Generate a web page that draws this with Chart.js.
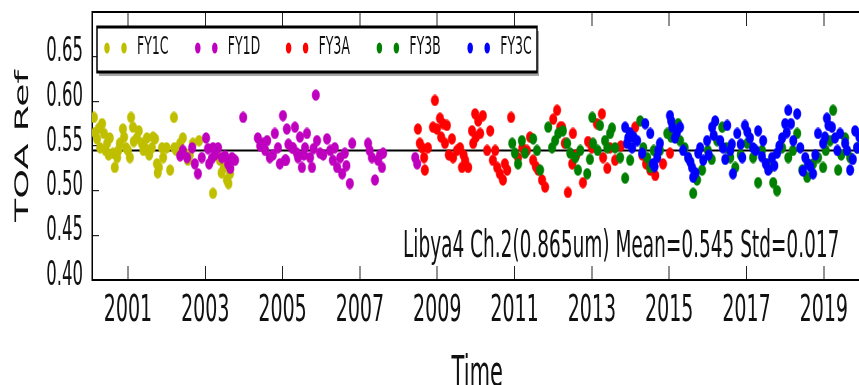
<!DOCTYPE html>
<html>
<head>
<meta charset="utf-8">
<script src="https://cdn.jsdelivr.net/npm/chart.js@4/dist/chart.umd.min.js"></script>
<style>
  html, body { margin: 0; padding: 0; background: #fff; overflow: hidden; }
  /* the source figure is squeezed sideways, so draw wide and squash */
  #wrap { width: 1740px; height: 400px; transform: scaleX(0.5); transform-origin: 0 0; }
</style>
</head>
<body>
<div id="wrap"><canvas id="chart" width="1740" height="400"></canvas></div>
<script>
const FONT = "'DejaVu Sans', sans-serif";

const xTickYears = [2001, 2003, 2005, 2007, 2009, 2011, 2013, 2015, 2017, 2019];
const yTickValues = [0.40, 0.45, 0.50, 0.55, 0.60, 0.65];
const meanValue = 0.545;
const statsText = "Libya4 Ch.2(0.865um) Mean=0.545 Std=0.017";

const fy1cYears = [2000.12, 2000.15, 2000.20, 2000.28, 2000.33, 2000.38, 2000.42, 2000.46, 2000.53, 2000.61,
  2000.66, 2000.72, 2000.79, 2000.87, 2000.90, 2000.95, 2001.00, 2001.05, 2001.08, 2001.13,
  2001.23, 2001.28, 2001.36, 2001.44, 2001.49, 2001.55, 2001.62, 2001.70, 2001.75, 2001.77,
  2001.80, 2001.88, 2001.91, 2002.00, 2002.09, 2002.19, 2002.25, 2002.35, 2002.42, 2002.47,
  2002.55, 2002.60, 2002.68, 2002.84, 2003.20, 2003.30, 2003.38, 2003.48, 2003.56, 2003.60, 2003.64,
  2000.25, 2000.50, 2000.75, 2001.15, 2001.40, 2001.65, 2002.20, 2003.42];
const fy1cRef = [0.582, 0.565, 0.558, 0.548, 0.575, 0.564, 0.545, 0.553, 0.559, 0.542,
  0.526, 0.537, 0.553, 0.569, 0.560, 0.548, 0.545, 0.537, 0.582, 0.571,
  0.559, 0.567, 0.553, 0.548, 0.559, 0.540, 0.548, 0.558, 0.530, 0.520,
  0.526, 0.548, 0.537, 0.548, 0.523, 0.582, 0.545, 0.553, 0.559, 0.542,
  0.534, 0.540, 0.553, 0.556, 0.497, 0.540, 0.534, 0.526, 0.512, 0.508, 0.519,
  0.570, 0.540, 0.545, 0.555, 0.545, 0.560, 0.548, 0.520];

const fy1dYears = [2002.35, 2002.42, 2002.53, 2002.66, 2002.73, 2002.81, 2002.91, 2003.02, 2003.07, 2003.17,
  2003.20, 2003.33, 2003.43, 2003.51, 2003.59, 2003.69, 2003.77, 2003.98, 2004.36, 2004.49,
  2004.60, 2004.67, 2004.80, 2004.88, 2004.93, 2005.01, 2005.06, 2005.09, 2005.11, 2005.24,
  2005.27, 2005.32, 2005.37, 2005.40, 2005.50, 2005.58, 2005.63, 2005.71, 2005.76, 2005.86,
  2005.89, 2005.97, 2006.15, 2006.23, 2006.30, 2006.41, 2006.49, 2006.54, 2006.61, 2006.74,
  2006.80, 2007.21, 2007.31, 2007.39, 2007.47, 2007.57, 2007.60, 2008.43, 2008.48,
  2003.10, 2003.25, 2003.65, 2004.42, 2004.55, 2004.75, 2005.15, 2005.45, 2005.55, 2005.80,
  2006.05, 2006.35, 2006.65, 2007.25, 2007.52];
const fy1dRef = [0.539, 0.545, 0.537, 0.548, 0.530, 0.519, 0.537, 0.559, 0.547, 0.536,
  0.548, 0.548, 0.537, 0.539, 0.530, 0.537, 0.534, 0.582, 0.559, 0.553,
  0.556, 0.537, 0.564, 0.548, 0.530, 0.584, 0.534, 0.534, 0.569, 0.548,
  0.548, 0.571, 0.542, 0.537, 0.526, 0.548, 0.564, 0.537, 0.526, 0.607,
  0.556, 0.542, 0.558, 0.545, 0.534, 0.526, 0.537, 0.519, 0.542, 0.508,
  0.553, 0.553, 0.537, 0.512, 0.534, 0.526, 0.542, 0.537, 0.530,
  0.530, 0.540, 0.525, 0.550, 0.545, 0.540, 0.552, 0.560, 0.540, 0.547,
  0.540, 0.548, 0.528, 0.545, 0.540];

const fy3aYears = [2008.50, 2008.61, 2008.66, 2008.68, 2008.76, 2008.89, 2008.94, 2008.99, 2009.07, 2009.15,
  2009.20, 2009.25, 2009.38, 2009.41, 2009.51, 2009.59, 2009.64, 2009.72, 2009.80, 2009.90,
  2009.93, 2009.98, 2010.06, 2010.11, 2010.18, 2010.29, 2010.37, 2010.44, 2010.55, 2010.62,
  2010.70, 2010.81, 2010.91, 2011.09, 2011.32, 2011.48, 2011.61, 2011.71, 2011.79, 2012.10,
  2012.18, 2012.23, 2012.38, 2012.49, 2012.51, 2012.77, 2013.13, 2013.26, 2013.29, 2013.47,
  2013.60, 2014.12, 2014.51, 2014.64, 2014.84, 2015.02,
  2008.55, 2009.10, 2009.30, 2009.68, 2010.00, 2010.50, 2010.75, 2011.20, 2011.40, 2011.55,
  2012.00, 2012.30, 2012.60, 2012.90, 2013.00, 2013.40, 2013.75, 2014.30, 2014.40];
const fy3aRef = [0.569, 0.548, 0.537, 0.523, 0.548, 0.571, 0.601, 0.569, 0.581, 0.575,
  0.553, 0.573, 0.558, 0.537, 0.545, 0.548, 0.526, 0.534, 0.526, 0.567,
  0.553, 0.586, 0.578, 0.564, 0.584, 0.545, 0.567, 0.534, 0.526, 0.519,
  0.512, 0.523, 0.582, 0.537, 0.545, 0.534, 0.523, 0.512, 0.504, 0.590,
  0.571, 0.571, 0.498, 0.530, 0.564, 0.509, 0.575, 0.586, 0.537, 0.548,
  0.534, 0.571, 0.523, 0.517, 0.530, 0.542,
  0.553, 0.560, 0.540, 0.540, 0.560, 0.545, 0.530, 0.548, 0.560, 0.527,
  0.580, 0.553, 0.540, 0.555, 0.548, 0.525, 0.550, 0.540, 0.530];

const fy3bYears = [2010.94, 2011.01, 2011.09, 2011.19, 2011.27, 2011.48, 2011.58, 2011.66, 2011.87, 2011.97,
  2012.05, 2012.13, 2012.25, 2012.36, 2012.44, 2012.57, 2012.64, 2012.88, 2013.01, 2013.03,
  2013.21, 2013.34, 2013.47, 2013.60, 2013.73, 2013.86, 2013.99, 2014.25, 2014.43, 2014.51,
  2014.76, 2014.95, 2015.23, 2015.28, 2015.49, 2015.62, 2015.72, 2015.85, 2016.24, 2016.37,
  2016.58, 2016.71, 2017.02, 2017.17, 2017.30, 2017.53, 2017.69, 2017.79, 2017.92, 2018.08,
  2018.31, 2018.44, 2018.57, 2018.72, 2018.98, 2019.16, 2019.24, 2019.37, 2019.55, 2019.68, 2019.86,
  2012.70, 2012.95, 2013.15, 2013.40, 2013.52, 2014.05, 2014.33, 2014.60, 2015.05, 2015.40,
  2016.00, 2016.10, 2016.48, 2016.85, 2017.40, 2017.60, 2018.20, 2018.85, 2019.05, 2019.45, 2019.95];
const fy3bRef = [0.553, 0.542, 0.530, 0.556, 0.542, 0.558, 0.545, 0.523, 0.571, 0.548,
  0.556, 0.564, 0.567, 0.553, 0.542, 0.537, 0.523, 0.519, 0.582, 0.553,
  0.573, 0.556, 0.564, 0.548, 0.537, 0.514, 0.534, 0.578, 0.537, 0.526,
  0.545, 0.564, 0.575, 0.556, 0.537, 0.497, 0.512, 0.523, 0.556, 0.571,
  0.537, 0.526, 0.553, 0.537, 0.509, 0.530, 0.509, 0.500, 0.548, 0.537,
  0.564, 0.523, 0.515, 0.530, 0.526, 0.556, 0.590, 0.523, 0.559, 0.537, 0.548,
  0.545, 0.535, 0.545, 0.548, 0.570, 0.560, 0.548, 0.545, 0.560, 0.548,
  0.545, 0.535, 0.548, 0.540, 0.545, 0.525, 0.545, 0.537, 0.545, 0.540, 0.548];

const fy3cYears = [2013.86, 2013.91, 2013.94, 2014.04, 2014.17, 2014.30, 2014.38, 2014.51, 2014.58, 2014.69,
  2014.76, 2015.02, 2015.08, 2015.15, 2015.28, 2015.36, 2015.49, 2015.59, 2015.62, 2015.75,
  2015.88, 2015.98, 2016.11, 2016.19, 2016.32, 2016.39, 2016.50, 2016.58, 2016.65, 2016.76,
  2016.89, 2016.96, 2017.09, 2017.17, 2017.30, 2017.43, 2017.56, 2017.66, 2017.79, 2017.92,
  2018.00, 2018.08, 2018.21, 2018.31, 2018.39, 2018.52, 2018.59, 2018.72, 2018.85, 2018.98,
  2019.08, 2019.21, 2019.29, 2019.42, 2019.55, 2019.68, 2019.81, 2019.86,
  2013.98, 2014.08, 2014.62, 2014.72, 2015.05, 2015.20, 2015.55, 2015.68, 2015.80, 2016.02,
  2016.15, 2016.45, 2016.62, 2016.85, 2017.02, 2017.24, 2017.40, 2017.50, 2017.72, 2017.85,
  2018.04, 2018.15, 2018.46, 2018.65, 2018.78, 2019.03, 2019.12, 2019.35, 2019.60, 2019.75, 2019.92];
const fy3cRef = [0.571, 0.553, 0.559, 0.548, 0.556, 0.542, 0.575, 0.564, 0.530, 0.537,
  0.553, 0.584, 0.571, 0.559, 0.571, 0.545, 0.537, 0.526, 0.515, 0.542,
  0.534, 0.556, 0.571, 0.578, 0.556, 0.548, 0.573, 0.545, 0.519, 0.564,
  0.537, 0.573, 0.559, 0.548, 0.567, 0.556, 0.523, 0.537, 0.542, 0.559,
  0.575, 0.590, 0.556, 0.586, 0.548, 0.537, 0.530, 0.519, 0.564, 0.553,
  0.581, 0.571, 0.559, 0.564, 0.553, 0.523, 0.567, 0.548,
  0.565, 0.560, 0.527, 0.545, 0.578, 0.565, 0.532, 0.520, 0.548, 0.540,
  0.562, 0.535, 0.552, 0.552, 0.566, 0.545, 0.538, 0.530, 0.528, 0.550,
  0.565, 0.575, 0.522, 0.527, 0.540, 0.560, 0.573, 0.545, 0.545, 0.535, 0.560];

function points(xs, ys) {
  return xs.map((x, i) => ({ x, y: ys[i] }));
}

// elliptical marker, squashed again by the page transform
function dot(color) {
  const c = document.createElement("canvas");
  c.width = 17;
  c.height = 12;
  const g = c.getContext("2d");
  g.fillStyle = color;
  g.beginPath();
  g.ellipse(8.5, 6, 8, 5.7, 0, 0, Math.PI * 2);
  g.fill();
  return c;
}

const series = [
  { label: "FY1C", xs: fy1cYears, ys: fy1cRef, color: "#bfbf00" },
  { label: "FY1D", xs: fy1dYears, ys: fy1dRef, color: "#bf00bf" },
  { label: "FY3A", xs: fy3aYears, ys: fy3aRef, color: "#ff0000" },
  { label: "FY3B", xs: fy3bYears, ys: fy3bRef, color: "#008000" },
  { label: "FY3C", xs: fy3cYears, ys: fy3cRef, color: "#0000ff" }
];

const datasets = series.map((s, i) => ({
  label: s.label,
  data: points(s.xs, s.ys),
  backgroundColor: s.color,
  borderColor: s.color,
  pointStyle: dot(s.color),
  order: series.length - i
}));
datasets.push({
  label: "",
  data: [{ x: 1999, y: meanValue }, { x: 2021, y: meanValue }],
  showLine: true,
  borderColor: "#000",
  borderWidth: 2,
  pointRadius: 0,
  order: 10
});

// legend box with two markers per entry + the stats line
const annotations = {
  id: "annotations",
  afterDraw(chart) {
    const ctx = chart.ctx;
    ctx.save();
    ctx.fillStyle = "rgba(0,0,0,0.35)";
    ctx.fillRect(198, 31, 880, 45);
    ctx.fillStyle = "#fff";
    ctx.fillRect(194, 27, 880, 45);
    ctx.strokeStyle = "#000";
    ctx.lineWidth = 3;
    ctx.strokeRect(194, 27, 880, 45);
    ctx.font = "25px " + FONT;
    ctx.textBaseline = "middle";
    chart.data.datasets.forEach((ds, i) => {
      if (!ds.label) return;
      const x0 = 214 + 181.6 * i;
      ctx.fillStyle = ds.backgroundColor;
      [x0, x0 + 34].forEach(cx => {
        ctx.beginPath();
        ctx.arc(cx, 48, 5.5, 0, Math.PI * 2);
        ctx.fill();
      });
      ctx.fillStyle = "#111";
      ctx.fillText(ds.label, x0 + 60, 47);
    });
    ctx.font = "37px " + FONT;
    ctx.textBaseline = "alphabetic";
    ctx.fillStyle = "#111";
    ctx.fillText(statsText, 806, 257);
    ctx.restore();
  }
};

const ctx = document.getElementById("chart").getContext("2d");
new Chart(ctx, {
  type: "scatter",
  data: { datasets },
  plugins: [annotations],
  options: {
    responsive: false,
    animation: false,
    devicePixelRatio: 1,
    layout: { padding: { left: 0, right: 15, top: 12, bottom: 0 } },
    plugins: { legend: { display: false }, tooltip: { enabled: false } },
    scales: {
      x: {
        type: "linear",
        position: "bottom",
        min: 2000.07,
        max: 2020,
        afterBuildTicks: scale => { scale.ticks = xTickYears.map(v => ({ value: v })); },
        afterFit: scale => { scale.height = 120; scale.paddingLeft = 0; scale.paddingRight = 0; },
        ticks: { color: "#111", padding: 22, font: { family: FONT, size: 38 }, callback: v => String(v) },
        grid: { drawOnChartArea: false, tickLength: -14, color: "#222", lineWidth: 2 },
        border: { color: "#000", width: 2 },
        title: { display: true, text: "Time", color: "#111", font: { family: FONT, size: 42 }, padding: { top: 7, bottom: 0 } }
      },
      x2: {
        type: "linear",
        position: "top",
        min: 2000.07,
        max: 2020,
        afterBuildTicks: scale => { scale.ticks = xTickYears.map(v => ({ value: v })); },
        afterFit: scale => { scale.height = 0; scale.paddingLeft = 0; scale.paddingRight = 0; },
        ticks: { display: false },
        grid: { drawOnChartArea: false, tickLength: -14, color: "#222", lineWidth: 2 },
        border: { color: "#000", width: 2 }
      },
      y: {
        type: "linear",
        position: "left",
        min: 0.40,
        max: 0.70,
        afterBuildTicks: scale => { scale.ticks = yTickValues.map(v => ({ value: v })); },
        afterFit: scale => { scale.width = 184; scale.paddingTop = 0; scale.paddingBottom = 0; },
        ticks: { color: "#111", padding: 32, labelOffset: -4, font: { family: FONT, size: 33 }, callback: v => v.toFixed(2) },
        grid: { drawOnChartArea: false, tickLength: -14, color: "#222", lineWidth: 1.2 },
        border: { color: "#000", width: 3 },
        title: { display: true, text: "TOA Ref", color: "#111", font: { family: FONT, size: 38 }, padding: { top: 23, bottom: 0 } }
      }
    }
  }
});
</script>
</body>
</html>
